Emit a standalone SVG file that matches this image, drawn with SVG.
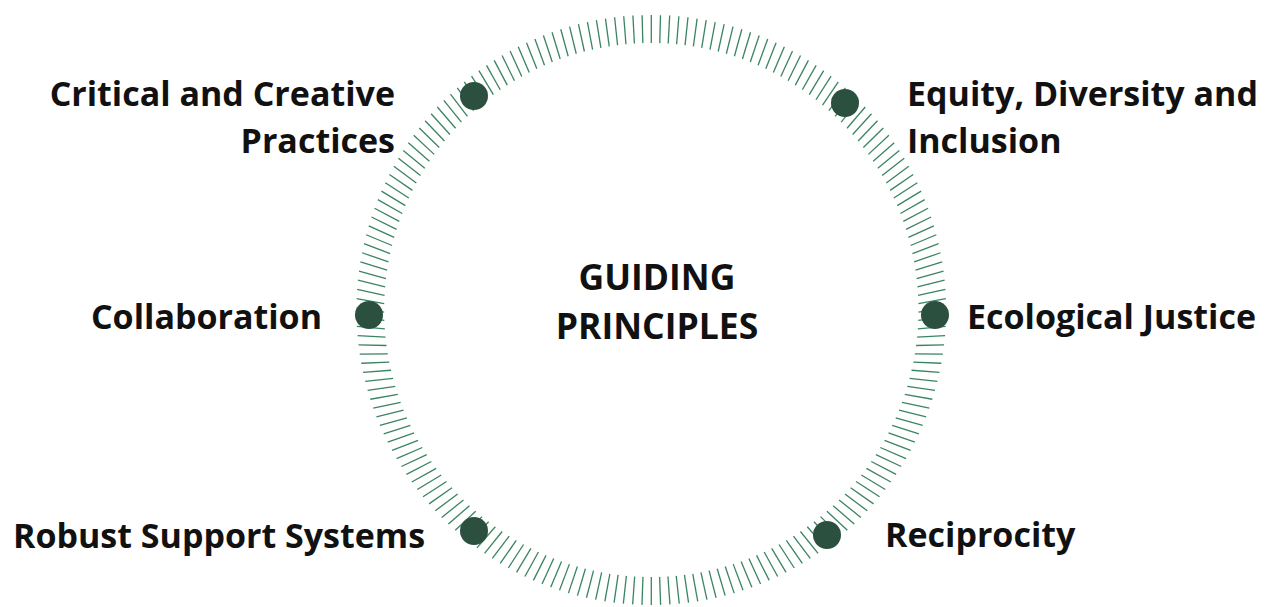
<svg xmlns="http://www.w3.org/2000/svg" xmlns:xlink="http://www.w3.org/1999/xlink" width="1279" height="607" viewBox="0 0 1279 607">
<style>
.lbl{font-family:"Open Sans","Noto Sans","Liberation Sans",sans-serif;font-weight:700;font-size:34px;fill:#111}
.ctr{font-size:35.5px}
.dot{fill:#2c5040}
.tk{stroke:#3a8460;stroke-width:1.3}
</style>
<defs>
<line id="k" class="tk" x1="0" y1="-295" x2="0" y2="-267"/>
</defs>
<rect width="1279" height="607" fill="#fff"/>
<g id="ring" transform="translate(651.3 310)">
<use href="#k" transform="rotate(0)"/>
<use href="#k" transform="rotate(1.8)rotate(-0.3 0 -281)"/>
<use href="#k" transform="rotate(3.6)rotate(-0.5 0 -281)"/>
<use href="#k" transform="rotate(5.4)rotate(-0.8 0 -281)"/>
<use href="#k" transform="rotate(7.2)rotate(-1.1 0 -281)"/>
<use href="#k" transform="rotate(9)rotate(-1.3 0 -281)"/>
<use href="#k" transform="rotate(10.8)rotate(-1.6 0 -281)"/>
<use href="#k" transform="rotate(12.6)rotate(-1.9 0 -281)"/>
<use href="#k" transform="rotate(14.4)rotate(-2.1 0 -281)"/>
<use href="#k" transform="rotate(16.2)rotate(-2.4 0 -281)"/>
<use href="#k" transform="rotate(18)rotate(-2.6 0 -281)"/>
<use href="#k" transform="rotate(19.8)rotate(-2.9 0 -281)"/>
<use href="#k" transform="rotate(21.6)rotate(-3.1 0 -281)"/>
<use href="#k" transform="rotate(23.4)rotate(-3.4 0 -281)"/>
<use href="#k" transform="rotate(25.2)rotate(-3.6 0 -281)"/>
<use href="#k" transform="rotate(27)rotate(-3.9 0 -281)"/>
<use href="#k" transform="rotate(28.8)rotate(-4.1 0 -281)"/>
<use href="#k" transform="rotate(30.6)rotate(-4.3 0 -281)"/>
<use href="#k" transform="rotate(32.4)rotate(-4.6 0 -281)"/>
<use href="#k" transform="rotate(34.2)rotate(-4.8 0 -281)"/>
<use href="#k" transform="rotate(36)rotate(-5 0 -281)"/>
<use href="#k" transform="rotate(37.8)rotate(-5.2 0 -281)"/>
<use href="#k" transform="rotate(39.6)rotate(-5.4 0 -281)"/>
<use href="#k" transform="rotate(41.4)rotate(-5.6 0 -281)"/>
<use href="#k" transform="rotate(43.2)rotate(-5.8 0 -281)"/>
<use href="#k" transform="rotate(45)rotate(-6 0 -281)"/>
<use href="#k" transform="rotate(46.8)rotate(-6.2 0 -281)"/>
<use href="#k" transform="rotate(48.6)rotate(-6.4 0 -281)"/>
<use href="#k" transform="rotate(50.4)rotate(-6.6 0 -281)"/>
<use href="#k" transform="rotate(52.2)rotate(-6.7 0 -281)"/>
<use href="#k" transform="rotate(54)rotate(-6.9 0 -281)"/>
<use href="#k" transform="rotate(55.8)rotate(-7 0 -281)"/>
<use href="#k" transform="rotate(57.6)rotate(-7.2 0 -281)"/>
<use href="#k" transform="rotate(59.4)rotate(-7.3 0 -281)"/>
<use href="#k" transform="rotate(61.2)rotate(-7.5 0 -281)"/>
<use href="#k" transform="rotate(63)rotate(-7.6 0 -281)"/>
<use href="#k" transform="rotate(64.8)rotate(-7.7 0 -281)"/>
<use href="#k" transform="rotate(66.6)rotate(-7.8 0 -281)"/>
<use href="#k" transform="rotate(68.4)rotate(-7.9 0 -281)"/>
<use href="#k" transform="rotate(70.2)rotate(-8 0 -281)"/>
<use href="#k" transform="rotate(72)rotate(-8.1 0 -281)"/>
<use href="#k" transform="rotate(73.8)rotate(-8.2 0 -281)"/>
<use href="#k" transform="rotate(75.6)rotate(-8.2 0 -281)"/>
<use href="#k" transform="rotate(77.4)rotate(-8.3 0 -281)"/>
<use href="#k" transform="rotate(79.2)rotate(-8.4 0 -281)"/>
<use href="#k" transform="rotate(81)rotate(-8.4 0 -281)"/>
<use href="#k" transform="rotate(82.8)rotate(-8.4 0 -281)"/>
<use href="#k" transform="rotate(84.6)rotate(-8.5 0 -281)"/>
<use href="#k" transform="rotate(86.4)rotate(-8.5 0 -281)"/>
<use href="#k" transform="rotate(88.2)rotate(-8.5 0 -281)"/>
<use href="#k" transform="rotate(90)rotate(-8.5 0 -281)"/>
<use href="#k" transform="rotate(91.8)rotate(-8.5 0 -281)"/>
<use href="#k" transform="rotate(93.6)rotate(-8.5 0 -281)"/>
<use href="#k" transform="rotate(95.4)rotate(-8.5 0 -281)"/>
<use href="#k" transform="rotate(97.2)rotate(-8.4 0 -281)"/>
<use href="#k" transform="rotate(99)rotate(-8.4 0 -281)"/>
<use href="#k" transform="rotate(100.8)rotate(-8.4 0 -281)"/>
<use href="#k" transform="rotate(102.6)rotate(-8.3 0 -281)"/>
<use href="#k" transform="rotate(104.4)rotate(-8.2 0 -281)"/>
<use href="#k" transform="rotate(106.2)rotate(-8.2 0 -281)"/>
<use href="#k" transform="rotate(108)rotate(-8.1 0 -281)"/>
<use href="#k" transform="rotate(109.8)rotate(-8 0 -281)"/>
<use href="#k" transform="rotate(111.6)rotate(-7.9 0 -281)"/>
<use href="#k" transform="rotate(113.4)rotate(-7.8 0 -281)"/>
<use href="#k" transform="rotate(115.2)rotate(-7.7 0 -281)"/>
<use href="#k" transform="rotate(117)rotate(-7.6 0 -281)"/>
<use href="#k" transform="rotate(118.8)rotate(-7.5 0 -281)"/>
<use href="#k" transform="rotate(120.6)rotate(-7.3 0 -281)"/>
<use href="#k" transform="rotate(122.4)rotate(-7.2 0 -281)"/>
<use href="#k" transform="rotate(124.2)rotate(-7 0 -281)"/>
<use href="#k" transform="rotate(126)rotate(-6.9 0 -281)"/>
<use href="#k" transform="rotate(127.8)rotate(-6.7 0 -281)"/>
<use href="#k" transform="rotate(129.6)rotate(-6.6 0 -281)"/>
<use href="#k" transform="rotate(131.4)rotate(-6.4 0 -281)"/>
<use href="#k" transform="rotate(133.2)rotate(-6.2 0 -281)"/>
<use href="#k" transform="rotate(135)rotate(-6 0 -281)"/>
<use href="#k" transform="rotate(136.8)rotate(-5.8 0 -281)"/>
<use href="#k" transform="rotate(138.6)rotate(-5.6 0 -281)"/>
<use href="#k" transform="rotate(140.4)rotate(-5.4 0 -281)"/>
<use href="#k" transform="rotate(142.2)rotate(-5.2 0 -281)"/>
<use href="#k" transform="rotate(144)rotate(-5 0 -281)"/>
<use href="#k" transform="rotate(145.8)rotate(-4.8 0 -281)"/>
<use href="#k" transform="rotate(147.6)rotate(-4.6 0 -281)"/>
<use href="#k" transform="rotate(149.4)rotate(-4.3 0 -281)"/>
<use href="#k" transform="rotate(151.2)rotate(-4.1 0 -281)"/>
<use href="#k" transform="rotate(153)rotate(-3.9 0 -281)"/>
<use href="#k" transform="rotate(154.8)rotate(-3.6 0 -281)"/>
<use href="#k" transform="rotate(156.6)rotate(-3.4 0 -281)"/>
<use href="#k" transform="rotate(158.4)rotate(-3.1 0 -281)"/>
<use href="#k" transform="rotate(160.2)rotate(-2.9 0 -281)"/>
<use href="#k" transform="rotate(162)rotate(-2.6 0 -281)"/>
<use href="#k" transform="rotate(163.8)rotate(-2.4 0 -281)"/>
<use href="#k" transform="rotate(165.6)rotate(-2.1 0 -281)"/>
<use href="#k" transform="rotate(167.4)rotate(-1.9 0 -281)"/>
<use href="#k" transform="rotate(169.2)rotate(-1.6 0 -281)"/>
<use href="#k" transform="rotate(171)rotate(-1.3 0 -281)"/>
<use href="#k" transform="rotate(172.8)rotate(-1.1 0 -281)"/>
<use href="#k" transform="rotate(174.6)rotate(-0.8 0 -281)"/>
<use href="#k" transform="rotate(176.4)rotate(-0.5 0 -281)"/>
<use href="#k" transform="rotate(178.2)rotate(-0.3 0 -281)"/>
<use href="#k" transform="rotate(180)"/>
<use href="#k" transform="rotate(181.8)rotate(0.3 0 -281)"/>
<use href="#k" transform="rotate(183.6)rotate(0.5 0 -281)"/>
<use href="#k" transform="rotate(185.4)rotate(0.8 0 -281)"/>
<use href="#k" transform="rotate(187.2)rotate(1.1 0 -281)"/>
<use href="#k" transform="rotate(189)rotate(1.3 0 -281)"/>
<use href="#k" transform="rotate(190.8)rotate(1.6 0 -281)"/>
<use href="#k" transform="rotate(192.6)rotate(1.9 0 -281)"/>
<use href="#k" transform="rotate(194.4)rotate(2.1 0 -281)"/>
<use href="#k" transform="rotate(196.2)rotate(2.4 0 -281)"/>
<use href="#k" transform="rotate(198)rotate(2.6 0 -281)"/>
<use href="#k" transform="rotate(199.8)rotate(2.9 0 -281)"/>
<use href="#k" transform="rotate(201.6)rotate(3.1 0 -281)"/>
<use href="#k" transform="rotate(203.4)rotate(3.4 0 -281)"/>
<use href="#k" transform="rotate(205.2)rotate(3.6 0 -281)"/>
<use href="#k" transform="rotate(207)rotate(3.9 0 -281)"/>
<use href="#k" transform="rotate(208.8)rotate(4.1 0 -281)"/>
<use href="#k" transform="rotate(210.6)rotate(4.3 0 -281)"/>
<use href="#k" transform="rotate(212.4)rotate(4.6 0 -281)"/>
<use href="#k" transform="rotate(214.2)rotate(4.8 0 -281)"/>
<use href="#k" transform="rotate(216)rotate(5 0 -281)"/>
<use href="#k" transform="rotate(217.8)rotate(5.2 0 -281)"/>
<use href="#k" transform="rotate(219.6)rotate(5.4 0 -281)"/>
<use href="#k" transform="rotate(221.4)rotate(5.6 0 -281)"/>
<use href="#k" transform="rotate(223.2)rotate(5.8 0 -281)"/>
<use href="#k" transform="rotate(225)rotate(6 0 -281)"/>
<use href="#k" transform="rotate(226.8)rotate(6.2 0 -281)"/>
<use href="#k" transform="rotate(228.6)rotate(6.4 0 -281)"/>
<use href="#k" transform="rotate(230.4)rotate(6.6 0 -281)"/>
<use href="#k" transform="rotate(232.2)rotate(6.7 0 -281)"/>
<use href="#k" transform="rotate(234)rotate(6.9 0 -281)"/>
<use href="#k" transform="rotate(235.8)rotate(7 0 -281)"/>
<use href="#k" transform="rotate(237.6)rotate(7.2 0 -281)"/>
<use href="#k" transform="rotate(239.4)rotate(7.3 0 -281)"/>
<use href="#k" transform="rotate(241.2)rotate(7.5 0 -281)"/>
<use href="#k" transform="rotate(243)rotate(7.6 0 -281)"/>
<use href="#k" transform="rotate(244.8)rotate(7.7 0 -281)"/>
<use href="#k" transform="rotate(246.6)rotate(7.8 0 -281)"/>
<use href="#k" transform="rotate(248.4)rotate(7.9 0 -281)"/>
<use href="#k" transform="rotate(250.2)rotate(8 0 -281)"/>
<use href="#k" transform="rotate(252)rotate(8.1 0 -281)"/>
<use href="#k" transform="rotate(253.8)rotate(8.2 0 -281)"/>
<use href="#k" transform="rotate(255.6)rotate(8.2 0 -281)"/>
<use href="#k" transform="rotate(257.4)rotate(8.3 0 -281)"/>
<use href="#k" transform="rotate(259.2)rotate(8.4 0 -281)"/>
<use href="#k" transform="rotate(261)rotate(8.4 0 -281)"/>
<use href="#k" transform="rotate(262.8)rotate(8.4 0 -281)"/>
<use href="#k" transform="rotate(264.6)rotate(8.5 0 -281)"/>
<use href="#k" transform="rotate(266.4)rotate(8.5 0 -281)"/>
<use href="#k" transform="rotate(268.2)rotate(8.5 0 -281)"/>
<use href="#k" transform="rotate(270)rotate(8.5 0 -281)"/>
<use href="#k" transform="rotate(271.8)rotate(8.5 0 -281)"/>
<use href="#k" transform="rotate(273.6)rotate(8.5 0 -281)"/>
<use href="#k" transform="rotate(275.4)rotate(8.5 0 -281)"/>
<use href="#k" transform="rotate(277.2)rotate(8.4 0 -281)"/>
<use href="#k" transform="rotate(279)rotate(8.4 0 -281)"/>
<use href="#k" transform="rotate(280.8)rotate(8.4 0 -281)"/>
<use href="#k" transform="rotate(282.6)rotate(8.3 0 -281)"/>
<use href="#k" transform="rotate(284.4)rotate(8.2 0 -281)"/>
<use href="#k" transform="rotate(286.2)rotate(8.2 0 -281)"/>
<use href="#k" transform="rotate(288)rotate(8.1 0 -281)"/>
<use href="#k" transform="rotate(289.8)rotate(8 0 -281)"/>
<use href="#k" transform="rotate(291.6)rotate(7.9 0 -281)"/>
<use href="#k" transform="rotate(293.4)rotate(7.8 0 -281)"/>
<use href="#k" transform="rotate(295.2)rotate(7.7 0 -281)"/>
<use href="#k" transform="rotate(297)rotate(7.6 0 -281)"/>
<use href="#k" transform="rotate(298.8)rotate(7.5 0 -281)"/>
<use href="#k" transform="rotate(300.6)rotate(7.3 0 -281)"/>
<use href="#k" transform="rotate(302.4)rotate(7.2 0 -281)"/>
<use href="#k" transform="rotate(304.2)rotate(7 0 -281)"/>
<use href="#k" transform="rotate(306)rotate(6.9 0 -281)"/>
<use href="#k" transform="rotate(307.8)rotate(6.7 0 -281)"/>
<use href="#k" transform="rotate(309.6)rotate(6.6 0 -281)"/>
<use href="#k" transform="rotate(311.4)rotate(6.4 0 -281)"/>
<use href="#k" transform="rotate(313.2)rotate(6.2 0 -281)"/>
<use href="#k" transform="rotate(315)rotate(6 0 -281)"/>
<use href="#k" transform="rotate(316.8)rotate(5.8 0 -281)"/>
<use href="#k" transform="rotate(318.6)rotate(5.6 0 -281)"/>
<use href="#k" transform="rotate(320.4)rotate(5.4 0 -281)"/>
<use href="#k" transform="rotate(322.2)rotate(5.2 0 -281)"/>
<use href="#k" transform="rotate(324)rotate(5 0 -281)"/>
<use href="#k" transform="rotate(325.8)rotate(4.8 0 -281)"/>
<use href="#k" transform="rotate(327.6)rotate(4.6 0 -281)"/>
<use href="#k" transform="rotate(329.4)rotate(4.3 0 -281)"/>
<use href="#k" transform="rotate(331.2)rotate(4.1 0 -281)"/>
<use href="#k" transform="rotate(333)rotate(3.9 0 -281)"/>
<use href="#k" transform="rotate(334.8)rotate(3.6 0 -281)"/>
<use href="#k" transform="rotate(336.6)rotate(3.4 0 -281)"/>
<use href="#k" transform="rotate(338.4)rotate(3.1 0 -281)"/>
<use href="#k" transform="rotate(340.2)rotate(2.9 0 -281)"/>
<use href="#k" transform="rotate(342)rotate(2.6 0 -281)"/>
<use href="#k" transform="rotate(343.8)rotate(2.4 0 -281)"/>
<use href="#k" transform="rotate(345.6)rotate(2.1 0 -281)"/>
<use href="#k" transform="rotate(347.4)rotate(1.9 0 -281)"/>
<use href="#k" transform="rotate(349.2)rotate(1.6 0 -281)"/>
<use href="#k" transform="rotate(351)rotate(1.3 0 -281)"/>
<use href="#k" transform="rotate(352.8)rotate(1.1 0 -281)"/>
<use href="#k" transform="rotate(354.6)rotate(0.8 0 -281)"/>
<use href="#k" transform="rotate(356.4)rotate(0.5 0 -281)"/>
<use href="#k" transform="rotate(358.2)rotate(0.3 0 -281)"/>
</g>
<g id="center">
<text class="lbl ctr" x="657" y="290" text-anchor="middle">GUIDING</text>
<text class="lbl ctr" x="657" y="339" text-anchor="middle">PRINCIPLES</text>
</g>
<g id="n-critical">
<circle class="dot" cx="474" cy="96" r="14"/>
<text class="lbl" x="395" y="106" text-anchor="end">Critical and Creative</text>
<text class="lbl" x="395" y="153" text-anchor="end">Practices</text>
</g>
<g id="n-equity">
<circle class="dot" cx="845" cy="103" r="14"/>
<text class="lbl" x="907" y="106">Equity, Diversity and</text>
<text class="lbl" x="907" y="153">Inclusion</text>
</g>
<g id="n-collab">
<circle class="dot" cx="369" cy="315" r="14"/>
<text class="lbl" x="322" y="329" text-anchor="end">Collaboration</text>
</g>
<g id="n-eco">
<circle class="dot" cx="935" cy="315" r="14"/>
<text class="lbl" x="967" y="329">Ecological Justice</text>
</g>
<g id="n-robust">
<circle class="dot" cx="474" cy="531" r="14"/>
<text class="lbl" x="13" y="548">Robust Support Systems</text>
</g>
<g id="n-recip">
<circle class="dot" cx="827" cy="535" r="14"/>
<text class="lbl" x="885" y="547">Reciprocity</text>
</g>
<g id="connectors"></g>
</svg>
